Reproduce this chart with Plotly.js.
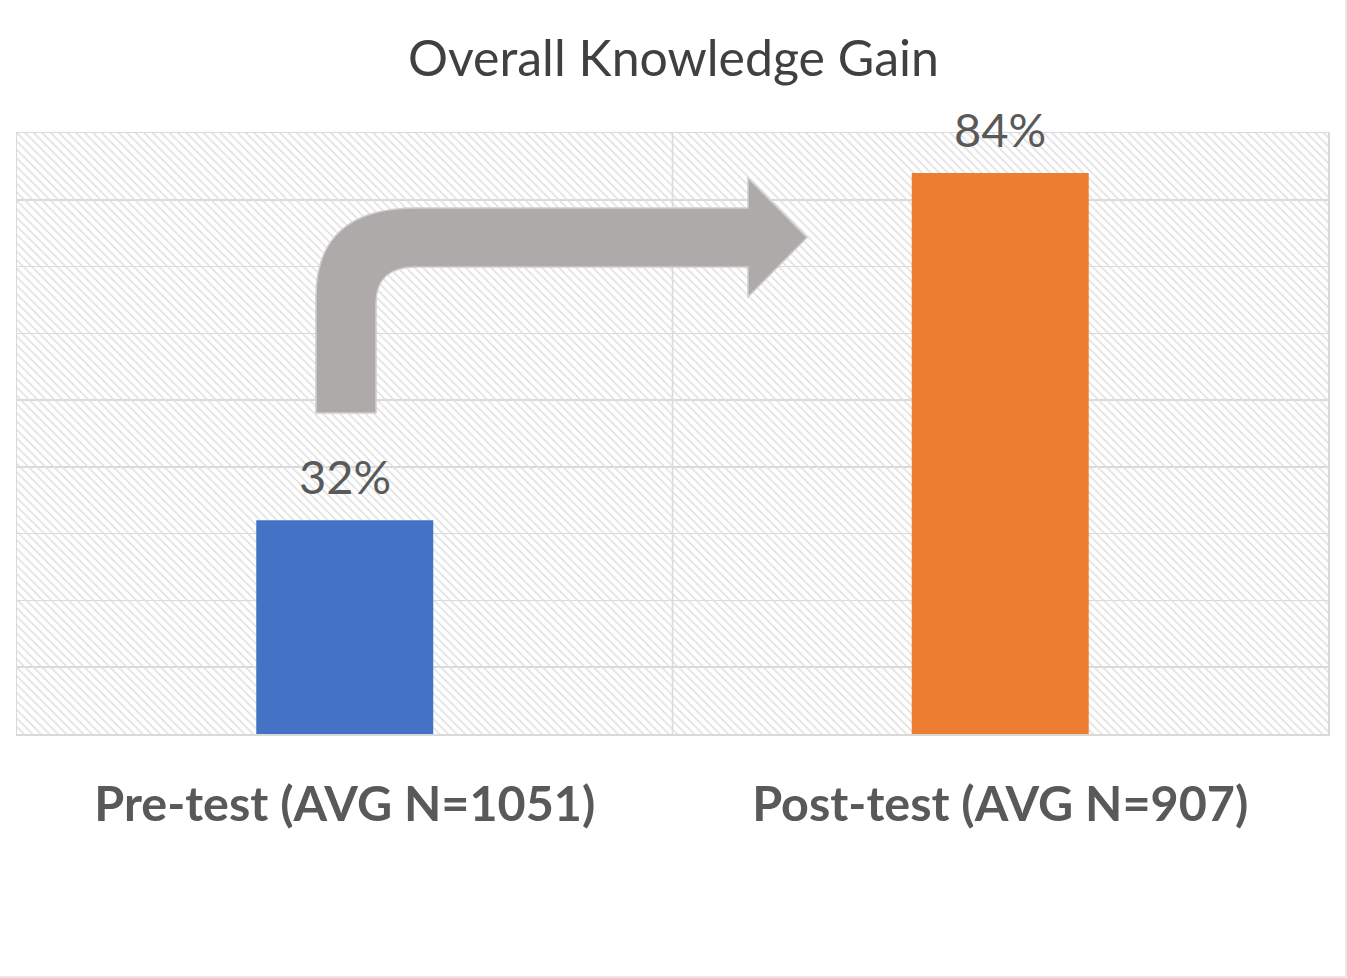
<!DOCTYPE html>
<html>
<head>
<meta charset="utf-8">
<script src="https://cdn.plot.ly/plotly-3.0.1.min.js"></script>
<style>html,body{margin:0;padding:0;background:#fff;}#chart{width:1347px;height:978px;}</style>
</head>
<body>
<div id="chart"></div>
<script>
const categories = ["Pre-test (AVG N=1051)", "Post-test (AVG N=907)"];
const values = [32, 84];
const valueLabels = ["32%", "84%"];
const barColors = ["#4472C4", "#ED7D31"];
const chartTitle = "Overall Knowledge Gain";
const yMax = 90;
const yStep = 10;

const W = 1347, H = 978;
const M = {l: 17, r: 19, t: 133, b: 244};
const PW = W - M.l - M.r, PH = H - M.t - M.b;
function px(x) { return ((x - M.l) / PW).toFixed(5); }
function py(y) { return ((H - M.b - y) / PH).toFixed(5); }

const arrowPts = [
  ["M", 316, 413], ["L", 316, 297], ["Q", 316, 208, 416, 208], ["L", 748, 208],
  ["L", 748, 178], ["L", 807, 237.5], ["L", 748, 297], ["L", 748, 267],
  ["L", 416, 267], ["Q", 376, 267, 376, 303], ["L", 376, 413]
];
let arrowPath = arrowPts.map(p => {
  let s = p[0] + " " + px(p[1]) + "," + py(p[2]);
  if (p.length > 3) s += " " + px(p[3]) + "," + py(p[4]);
  return s;
}).join(" ") + " Z";

const hatch = {
  type: "bar", x: categories, y: categories.map(() => yMax), width: 1,
  marker: {color: "rgba(0,0,0,0)", line: {width: 0},
    pattern: {shape: "\\", fgcolor: "#dedede", bgcolor: "rgba(0,0,0,0)", size: 6, solidity: 0.25}},
  hoverinfo: "skip", showlegend: false
};
const bars = {
  type: "bar", x: categories, y: values, width: 0.27,
  marker: {color: barColors, line: {width: 0}},
  hoverinfo: "x+y", showlegend: false
};

const annotations = categories.map((c, i) => ({
  x: c, y: values[i], xref: "x", yref: "y", text: valueLabels[i],
  showarrow: false, yanchor: "bottom", yshift: 14,
  font: {family: "Lato, 'Open Sans', sans-serif", size: 47, color: "#595959"}
}));

const layout = {
  width: W, height: H,
  margin: M,
  paper_bgcolor: "#ffffff", plot_bgcolor: "#ffffff",
  barmode: "overlay",
  title: {text: chartTitle, x: 0.5, xanchor: "center", y: 1 - 58 / H, yanchor: "middle", yref: "container",
    font: {family: "Lato, 'Open Sans', sans-serif", size: 50, color: "#404040"}},
  xaxis: {range: [-0.5, 1.5], showgrid: false, showline: true, mirror: true, linecolor: "#d9d9d9", linewidth: 1.5,
    ticks: "", tickfont: {family: "Lato, 'Open Sans', sans-serif", size: 48.5, weight: "bold", color: "#595959"},
    ticklabelstandoff: 27, fixedrange: true},
  yaxis: {range: [0, yMax], dtick: yStep, showgrid: true, gridcolor: "#d9d9d9", gridwidth: 1.5,
    showline: true, mirror: true, linecolor: "#d9d9d9", linewidth: 1.5, zeroline: false,
    showticklabels: false, ticks: "", fixedrange: true},
  annotations: annotations,
  shapes: [
    {type: "line", xref: "x", yref: "paper", x0: 0.5, x1: 0.5, y0: 0, y1: 1, line: {color: "#d9d9d9", width: 1.5}, layer: "below"},
    {type: "path", xref: "paper", yref: "paper", path: arrowPath, fillcolor: "#AEAAAA", line: {color: "#CFCDCD", width: 1.5}, layer: "above"},
    {type: "line", xref: "paper", yref: "paper", x0: px(1346), x1: px(1346), y0: py(0), y1: py(977), line: {color: "#e0e0e0", width: 1.5}},
    {type: "line", xref: "paper", yref: "paper", x0: px(0), x1: px(1346), y0: py(977), y1: py(977), line: {color: "#e0e0e0", width: 1.5}}
  ],
  font: {family: "Lato, 'Open Sans', sans-serif", color: "#595959"}
};

Plotly.newPlot("chart", [hatch, bars], layout, {displayModeBar: false, staticPlot: true});
</script>
</body>
</html>
